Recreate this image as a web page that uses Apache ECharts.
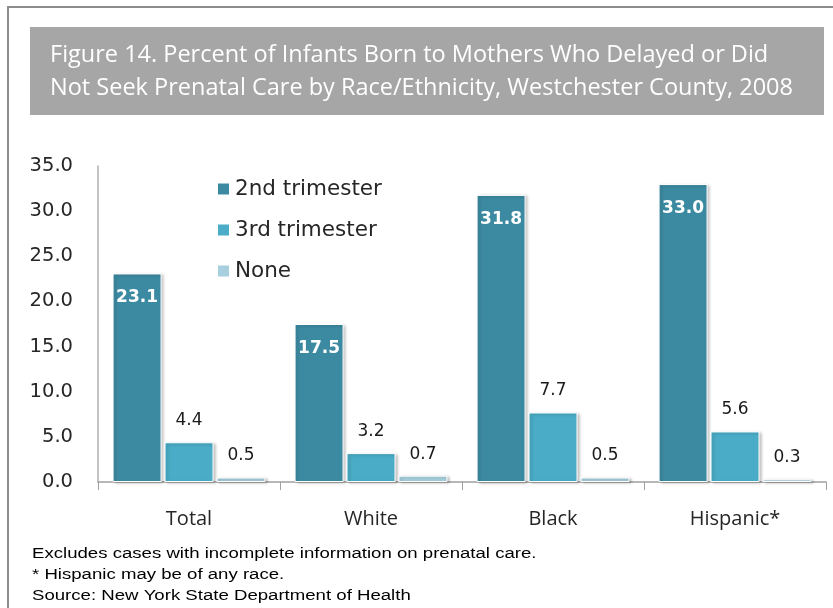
<!DOCTYPE html>
<html>
<head>
<meta charset="utf-8">
<script src="https://cdn.jsdelivr.net/npm/echarts@6/dist/echarts.min.js"></script>
<style>
  html, body { margin: 0; padding: 0; background: #fff; }
  #chart { width: 833px; height: 608px; }
</style>
</head>
<body>
<div id="chart"></div>
<script>
var categories = ['Total', 'White', 'Black', 'Hispanic*'];
var seriesNames = ['2nd trimester', '3rd trimester', 'None'];
var second = [23.1, 17.5, 31.8, 33.0];
var third = [4.4, 3.2, 7.7, 5.6];
var none = [0.5, 0.7, 0.5, 0.3];
var yTicks = [0, 5, 10, 15, 20, 25, 30, 35];
var notes = [
    'Excludes cases with incomplete information on prenatal care.',
    '* Hispanic may be of any race.',
    'Source: New York State Department of Health'
];

var chart = echarts.init(document.getElementById('chart'));

var barShadow = {
    borderColor: '#ffffff',
    borderWidth: 1,
    shadowColor: 'rgba(0,0,0,0.25)',
    shadowBlur: 3,
    shadowOffsetX: 2,
    shadowOffsetY: 1
};

function makeSeries(name, data, color, inside) {
    return {
        name: name,
        type: 'bar',
        data: data,
        barWidth: 49,
        barGap: '6%',
        itemStyle: Object.assign({ color: color }, barShadow),
        label: {
            show: true,
            position: inside ? 'insideTop' : 'top',
            distance: inside ? 16 : 13,
            formatter: function (p) { return p.value.toFixed(1); },
            color: inside ? '#ffffff' : '#1a1a1a',
            fontFamily: 'DejaVu Sans',
            fontWeight: inside ? 'bold' : 'normal',
            fontSize: 17
        }
    };
}

chart.setOption({
    animation: false,
    graphic: [
        {
            type: 'rect',
            shape: { x: 8, y: 7, width: 900, height: 700 },
            style: { fill: 'none', stroke: '#8c8c8c', lineWidth: 2 },
            silent: true
        },
        {
            type: 'rect',
            shape: { x: 30, y: 27, width: 794, height: 88 },
            style: { fill: '#a6a6a6' },
            silent: true
        },
        {
            type: 'text',
            left: 50,
            top: 39,
            style: {
                text: 'Figure 14. Percent of Infants Born to Mothers Who Delayed or Did\nNot Seek Prenatal Care by Race/Ethnicity, Westchester County, 2008',
                fill: '#ffffff',
                font: '23.5px "Open Sans"',
                lineHeight: 33
            }
        },
        {
            type: 'text',
            x: 32,
            y: 543,
            scaleX: 1.2,
            style: {
                text: notes.join('\n'),
                fill: '#000000',
                font: '15.5px "Liberation Sans"',
                lineHeight: 21
            }
        }
    ],
    legend: {
        data: seriesNames,
        orient: 'vertical',
        left: 211,
        top: 173,
        itemWidth: 13,
        itemHeight: 13,
        itemGap: 19,
        icon: 'rect',
        textStyle: { fontFamily: 'DejaVu Sans', fontSize: 21.5, color: '#262626' }
    },
    grid: { left: 98, right: 7, top: 166, bottom: 126 },
    xAxis: {
        type: 'category',
        data: categories,
        axisLine: { lineStyle: { color: '#a0a0a0', width: 1.5 } },
        axisTick: { show: true, length: 8, lineStyle: { color: '#a0a0a0' } },
        axisLabel: {
            margin: 27,
            fontFamily: 'Open Sans',
            fontSize: 20,
            color: '#262626'
        }
    },
    yAxis: {
        type: 'value',
        min: yTicks[0],
        max: yTicks[yTicks.length - 1],
        interval: 5,
        splitLine: { show: false },
        axisTick: { show: false },
        axisLine: { show: true, lineStyle: { color: '#b0b0b0', width: 1.5 } },
        axisLabel: {
            margin: 25,
            fontFamily: 'DejaVu Sans',
            fontSize: 19.5,
            color: '#262626',
            formatter: function (v) { return v.toFixed(1); }
        }
    },
    series: [
        makeSeries(seriesNames[0], second, '#3c8aa1', true),
        makeSeries(seriesNames[1], third, '#4aacc6', false),
        makeSeries(seriesNames[2], none, '#a7cfdd', false)
    ]
});
</script>
</body>
</html>
